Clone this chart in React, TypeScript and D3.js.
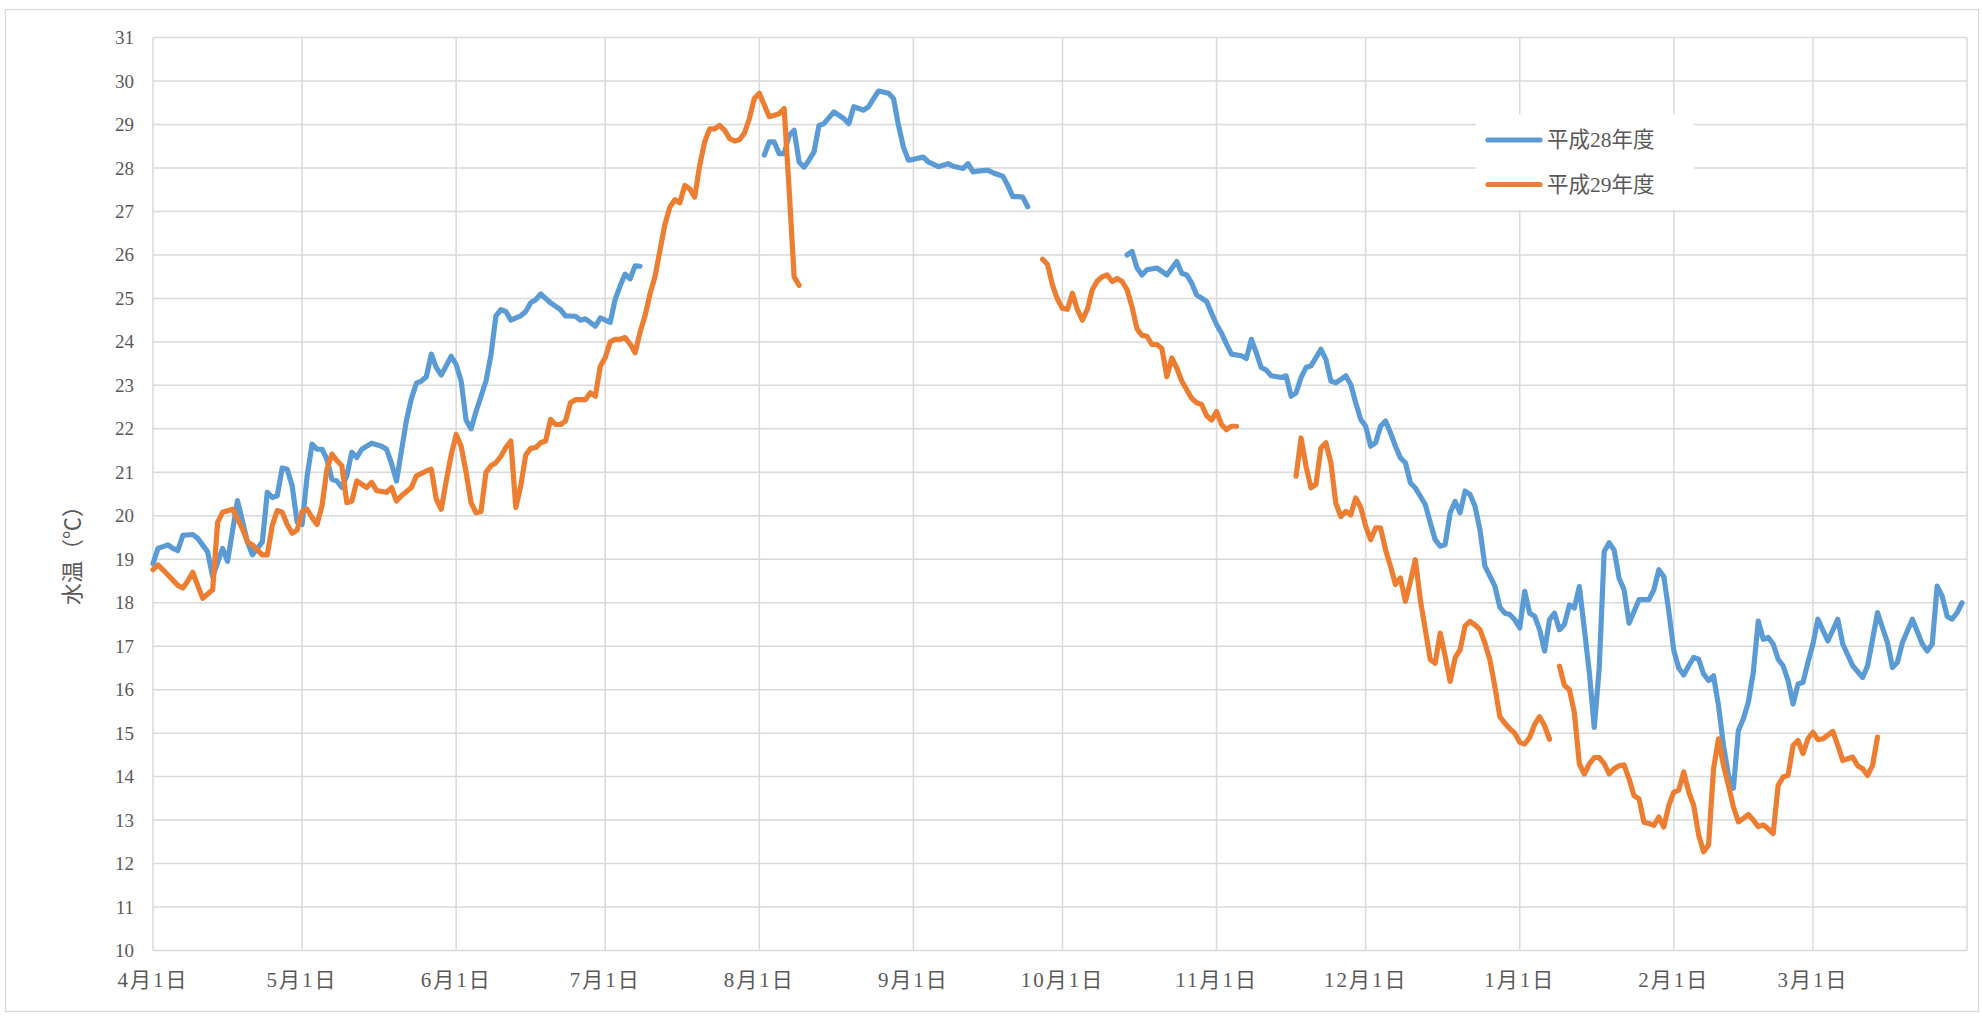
import React, { useEffect, useRef } from "react";
import * as d3 from "d3";

// 4月1日からの経過日数と水温、null は欠測
const fiscalStart = new Date(2016, 3, 1);
const fiscalEnd = new Date(2017, 3, 1);
const seriesNames = ["平成28年度", "平成29年度"];
const seriesColors = ["#5B9BD5", "#ED7D31"];
const yMin = 10, yMax = 31;

const h28: [number, number | null][] = [
    [0, 18.9], [1, 19.25], [3, 19.33], [4, 19.25], [5, 19.2], [6, 19.55], [8, 19.57], [9, 19.48], [11, 19.17], [12, 18.6],
    [14, 19.25], [15, 18.95], [17, 20.35], [19, 19.4], [20, 19.1], [22, 19.4], [23, 20.54], [24, 20.42], [25, 20.46], [26, 21.1],
    [27, 21.07], [28, 20.69], [29, 19.86], [30, 19.8], [31, 20.9], [32, 21.65], [33, 21.53], [34, 21.53], [35, 21.3], [36, 20.84],
    [37, 20.8], [38, 20.65], [39, 20.92], [40, 21.46], [41, 21.34], [42, 21.53], [44, 21.67], [46, 21.6], [47, 21.53], [48, 21.2],
    [49, 20.8], [50, 21.5], [51, 22.2], [52, 22.7], [53, 23.05], [54, 23.1], [55, 23.2], [56, 23.72], [57, 23.41], [58, 23.24],
    [59, 23.45], [60, 23.67], [61, 23.48], [62, 23.1], [63, 22.2], [64, 22.0], [65, 22.4], [66, 22.75], [67, 23.1], [68, 23.7],
    [69, 24.6], [70, 24.74], [71, 24.7], [72, 24.5], [74, 24.6], [75, 24.7], [76, 24.9], [77, 24.97], [78, 25.1], [79, 25.0],
    [80, 24.9], [82, 24.74], [83, 24.6], [85, 24.59], [86, 24.5], [87, 24.53], [88, 24.45], [89, 24.36], [90, 24.55], [91, 24.5],
    [92, 24.45], [93, 24.98], [94, 25.29], [95, 25.56], [96, 25.45], [97, 25.75], [98, 25.74],
    [110, null],
    [123, 28.3], [124, 28.6], [125, 28.6], [126, 28.33], [127, 28.33], [128, 28.75], [129, 28.87], [130, 28.14], [131, 28.02], [132, 28.18],
    [133, 28.37], [134, 28.98], [135, 29.02], [137, 29.29], [139, 29.14], [140, 29.02], [141, 29.41], [143, 29.33], [144, 29.41], [145, 29.6],
    [146, 29.77], [148, 29.72], [149, 29.6], [150, 28.98], [151, 28.48], [152, 28.18], [153, 28.2], [155, 28.25], [156, 28.14], [158, 28.03],
    [160, 28.1], [161, 28.04], [163, 27.99], [164, 28.1], [165, 27.91], [166, 27.93], [168, 27.95], [169, 27.89], [171, 27.81], [172, 27.6],
    [173, 27.34], [174, 27.34], [175, 27.33], [176, 27.11],
    [186, null],
    [196, 26.0], [197, 26.08], [198, 25.7], [199, 25.54], [200, 25.66], [202, 25.7], [203, 25.62], [204, 25.54], [206, 25.85], [207, 25.58],
    [208, 25.54], [209, 25.35], [210, 25.08], [212, 24.93], [213, 24.66], [214, 24.4], [215, 24.2], [216, 23.95], [217, 23.72], [219, 23.68],
    [220, 23.62], [221, 24.06], [222, 23.75], [223, 23.41], [224, 23.35], [225, 23.22], [227, 23.18], [228, 23.22], [229, 22.75], [230, 22.83],
    [231, 23.18], [232, 23.41], [233, 23.45], [234, 23.64], [235, 23.83], [236, 23.6], [237, 23.1], [238, 23.06], [239, 23.14], [240, 23.22],
    [241, 23.02], [242, 22.6], [243, 22.22], [244, 22.06], [245, 21.6], [246, 21.68], [247, 22.06], [248, 22.18], [249, 21.91], [250, 21.6],
    [251, 21.33], [252, 21.22], [253, 20.76], [254, 20.64], [255, 20.45], [256, 20.26], [257, 19.84], [258, 19.45], [259, 19.3], [260, 19.34],
    [261, 20.07], [262, 20.33], [263, 20.07], [264, 20.57], [265, 20.49], [266, 20.22], [267, 19.68], [268, 18.84], [269, 18.61], [270, 18.38],
    [271, 17.9], [272, 17.76], [273, 17.73], [274, 17.61], [275, 17.42], [276, 18.26], [277, 17.76], [278, 17.69], [279, 17.38], [280, 16.89],
    [281, 17.61], [282, 17.76], [283, 17.38], [284, 17.5], [285, 17.95], [286, 17.88], [287, 18.37], [288, 17.4], [289, 16.4], [290, 15.13],
    [291, 16.5], [292, 19.18], [293, 19.38], [294, 19.21], [295, 18.56], [296, 18.3], [297, 17.53], [298, 17.8], [299, 18.07], [301, 18.07],
    [302, 18.3], [303, 18.76], [304, 18.6], [305, 17.8], [306, 16.9], [307, 16.5], [308, 16.34], [309, 16.55], [310, 16.74], [311, 16.7],
    [312, 16.36], [313, 16.21], [314, 16.32], [315, 15.63], [316, 14.72], [317, 14.03], [318, 13.73], [319, 15.06], [320, 15.33], [321, 15.71],
    [322, 16.4], [323, 17.58], [324, 17.16], [325, 17.2], [326, 17.05], [327, 16.7], [328, 16.55], [329, 16.21], [330, 15.67], [331, 16.13],
    [332, 16.17], [333, 16.63], [334, 17.05], [335, 17.62], [337, 17.12], [339, 17.62], [340, 17.05], [342, 16.55], [344, 16.28], [345, 16.55],
    [347, 17.77], [349, 17.08], [350, 16.51], [351, 16.63], [352, 17.08], [354, 17.62], [356, 17.05], [357, 16.89], [358, 17.05], [359, 18.38],
    [360, 18.15], [361, 17.69], [362, 17.62], [363, 17.77], [364, 18.0],
];

const h29: [number, number | null][] = [
    [0, 18.76], [1, 18.87], [3, 18.64], [5, 18.4], [6, 18.34], [7, 18.5], [8, 18.7], [9, 18.4], [10, 18.1], [11, 18.2],
    [12, 18.3], [13, 19.85], [14, 20.08], [16, 20.15], [17, 19.93], [18, 19.7], [19, 19.4], [20, 19.33], [22, 19.1], [23, 19.1],
    [24, 19.78], [25, 20.12], [26, 20.08], [27, 19.8], [28, 19.6], [29, 19.67], [30, 20.1], [31, 20.15], [32, 19.96], [33, 19.8],
    [34, 20.23], [35, 21.07], [36, 21.42], [37, 21.27], [38, 21.15], [39, 20.3], [40, 20.34], [41, 20.8], [43, 20.65], [44, 20.77],
    [45, 20.58], [47, 20.54], [48, 20.65], [49, 20.34], [50, 20.46], [52, 20.65], [53, 20.92], [55, 21.03], [56, 21.07], [57, 20.38],
    [58, 20.15], [59, 20.8], [60, 21.4], [61, 21.87], [62, 21.6], [63, 21.0], [64, 20.3], [65, 20.07], [66, 20.1], [67, 21.0],
    [68, 21.15], [69, 21.22], [70, 21.37], [71, 21.57], [72, 21.72], [73, 20.19], [74, 20.69], [75, 21.4], [76, 21.55], [77, 21.57],
    [78, 21.68], [79, 21.72], [80, 22.22], [81, 22.1], [82, 22.1], [83, 22.18], [84, 22.6], [85, 22.67], [87, 22.67], [88, 22.83],
    [89, 22.75], [90, 23.44], [91, 23.64], [92, 24.0], [93, 24.06], [94, 24.06], [95, 24.1], [96, 23.95], [97, 23.75], [98, 24.22],
    [99, 24.6], [100, 25.1], [101, 25.5], [102, 26.1], [103, 26.7], [104, 27.1], [105, 27.27], [106, 27.2], [107, 27.6], [108, 27.52],
    [109, 27.33], [110, 28.06], [111, 28.6], [112, 28.9], [113, 28.9], [114, 28.98], [115, 28.87], [116, 28.68], [117, 28.62], [118, 28.65],
    [119, 28.8], [120, 29.14], [121, 29.6], [122, 29.72], [123, 29.45], [124, 29.18], [126, 29.25], [127, 29.37], [128, 27.5], [129, 25.5],
    [130, 25.3],
    [150, null],
    [179, 25.9], [180, 25.78], [181, 25.3], [182, 24.98], [183, 24.77], [184, 24.75], [185, 25.12], [186, 24.74], [187, 24.5], [188, 24.75],
    [189, 25.2], [190, 25.4], [191, 25.5], [192, 25.54], [193, 25.39], [194, 25.46], [195, 25.39], [196, 25.2], [197, 24.8], [198, 24.3],
    [199, 24.15], [200, 24.13], [201, 23.94], [202, 23.94], [203, 23.85], [204, 23.2], [205, 23.63], [206, 23.4], [207, 23.1], [208, 22.9],
    [209, 22.7], [210, 22.6], [211, 22.56], [212, 22.3], [213, 22.2], [214, 22.4], [215, 22.1], [216, 21.98], [217, 22.06], [218, 22.06],
    [224, null],
    [230, 20.91], [231, 21.79], [232, 21.14], [233, 20.64], [234, 20.72], [235, 21.56], [236, 21.68], [237, 21.22], [238, 20.29], [239, 19.98],
    [240, 20.1], [241, 20.02], [242, 20.41], [243, 20.2], [244, 19.76], [245, 19.45], [246, 19.72], [247, 19.72], [248, 19.22], [249, 18.84],
    [250, 18.42], [251, 18.57], [252, 18.03], [253, 18.49], [254, 18.99], [255, 18.07], [256, 17.38], [257, 16.69], [258, 16.61], [259, 17.3],
    [260, 16.77], [261, 16.19], [262, 16.73], [263, 16.92], [264, 17.46], [265, 17.57], [266, 17.49], [267, 17.38], [268, 17.07], [269, 16.69],
    [270, 16.07], [271, 15.38], [272, 15.23], [273, 15.1], [274, 15.0], [275, 14.79], [276, 14.75], [277, 14.9], [278, 15.2], [279, 15.38],
    [280, 15.17], [281, 14.86],
    [282, null],
    [283, 16.54], [284, 16.1], [285, 16.0], [286, 15.47], [287, 14.29], [288, 14.06], [289, 14.29], [290, 14.44], [291, 14.44], [292, 14.3],
    [293, 14.06], [294, 14.18], [295, 14.25], [296, 14.27], [297, 13.95], [298, 13.56], [299, 13.49], [300, 12.95], [301, 12.92], [302, 12.88],
    [303, 13.07], [304, 12.84], [305, 13.34], [306, 13.64], [307, 13.69], [308, 14.11], [309, 13.65], [310, 13.34], [311, 12.66], [312, 12.27],
    [313, 12.43], [314, 14.18], [315, 14.87], [316, 14.26], [317, 13.8], [318, 13.3], [319, 12.96], [320, 13.04], [321, 13.13], [322, 13.0],
    [323, 12.85], [324, 12.89], [325, 12.8], [326, 12.69], [327, 13.8], [328, 13.99], [329, 14.03], [330, 14.72], [331, 14.83], [332, 14.53],
    [333, 14.87], [334, 15.02], [335, 14.85], [336, 14.87], [338, 15.04], [339, 14.72], [340, 14.37], [342, 14.45], [343, 14.25], [344, 14.18],
    [345, 14.03], [346, 14.26], [347, 14.91],
];

const FONT = '"Liberation Serif", "Noto Sans CJK JP", serif';

export default function App() {
    const ref = useRef<SVGSVGElement>(null);

    useEffect(() => {
        const W = 1982, H = 1016;
        const margin = { top: 37.6, right: 15, bottom: 65.5, left: 153 };
        const w = W - margin.left - margin.right,
            h = H - margin.top - margin.bottom;

        const svg = d3.select(ref.current);
        svg.selectAll("*").remove();

        // chart area border
        svg.append("rect")
            .attr("x", 5.5).attr("y", 9.5)
            .attr("width", 1973).attr("height", 1002)
            .attr("fill", "#fff").attr("stroke", "#D9D9D9").attr("stroke-width", 1.3);

        const g = svg.append("g").attr("transform", `translate(${margin.left}, ${margin.top})`);

        const x = d3.scaleTime().domain([fiscalStart, fiscalEnd]).range([0, w]);
        const y = d3.scaleLinear().domain([yMin, yMax]).range([h, 0]);
        const toDate = (d: number) => d3.timeDay.offset(fiscalStart, d);

        // horizontal grid + y labels
        const yTicks = y.ticks(yMax - yMin);
        g.selectAll(".hgrid").data(yTicks).join("line").attr("class", "hgrid")
            .attr("x1", 0).attr("x2", w)
            .attr("y1", d => y(d)).attr("y2", d => y(d))
            .attr("stroke", "#D9D9D9").attr("stroke-width", 1.5);

        g.selectAll(".ylab").data(yTicks).join("text").attr("class", "ylab")
            .attr("x", -19).attr("y", d => y(d))
            .attr("text-anchor", "end").attr("dominant-baseline", "central")
            .attr("font-family", FONT).attr("font-size", 19).attr("fill", "#595959")
            .text(d => d);

        // vertical grid at month starts + x labels
        const months = d3.timeMonth.range(fiscalStart, fiscalEnd);
        g.selectAll(".vgrid").data([...months, fiscalEnd]).join("line").attr("class", "vgrid")
            .attr("x1", d => x(d)).attr("x2", d => x(d))
            .attr("y1", 0).attr("y2", h)
            .attr("stroke", "#D9D9D9").attr("stroke-width", 1.5);

        g.selectAll(".xlab").data(months).join("text").attr("class", "xlab")
            .attr("x", d => x(d)).attr("y", h + 30)
            .attr("text-anchor", "middle").attr("dominant-baseline", "central")
            .attr("font-family", FONT).attr("font-size", 21).attr("letter-spacing", 2)
            .attr("fill", "#595959")
            .text(d => `${d.getMonth() + 1}月1日`);

        // lines
        const line = d3.line<[number, number | null]>()
            .defined(d => d[1] != null)
            .x(d => x(toDate(d[0])))
            .y(d => y(d[1] as number));

        [h28, h29].forEach((data, i) => {
            g.append("path")
                .datum(data)
                .attr("d", line)
                .attr("fill", "none")
                .attr("stroke", seriesColors[i])
                .attr("stroke-width", 5.2)
                .attr("stroke-linejoin", "round")
                .attr("stroke-linecap", "round");
        });

        // y axis title
        svg.append("text")
            .attr("transform", `translate(72, 550) rotate(-90)`)
            .attr("text-anchor", "middle").attr("dominant-baseline", "central")
            .attr("font-family", FONT).attr("font-size", 22).attr("fill", "#595959")
            .text("水温（℃）");

        // legend (white box hides the grid)
        const legend = svg.append("g").attr("transform", "translate(1476, 114)");
        legend.append("rect").attr("width", 218).attr("height", 96).attr("fill", "#fff");
        seriesNames.forEach((name, i) => {
            const row = legend.append("g").attr("transform", `translate(12, ${26 + i * 44.5})`);
            row.append("line").attr("x1", 0).attr("x2", 52).attr("y1", 0).attr("y2", 0)
                .attr("stroke", seriesColors[i]).attr("stroke-width", 5.2).attr("stroke-linecap", "round");
            row.append("text").attr("x", 59).attr("y", 0)
                .attr("dominant-baseline", "central")
                .attr("font-family", FONT).attr("font-size", 21.5).attr("fill", "#595959")
                .text(name);
        });
    }, []);

    return (
        <svg ref={ref} width={1982} height={1016}
            style={{ position: "absolute", left: 0, top: 0, display: "block", background: "#fff" }} />
    );
}
